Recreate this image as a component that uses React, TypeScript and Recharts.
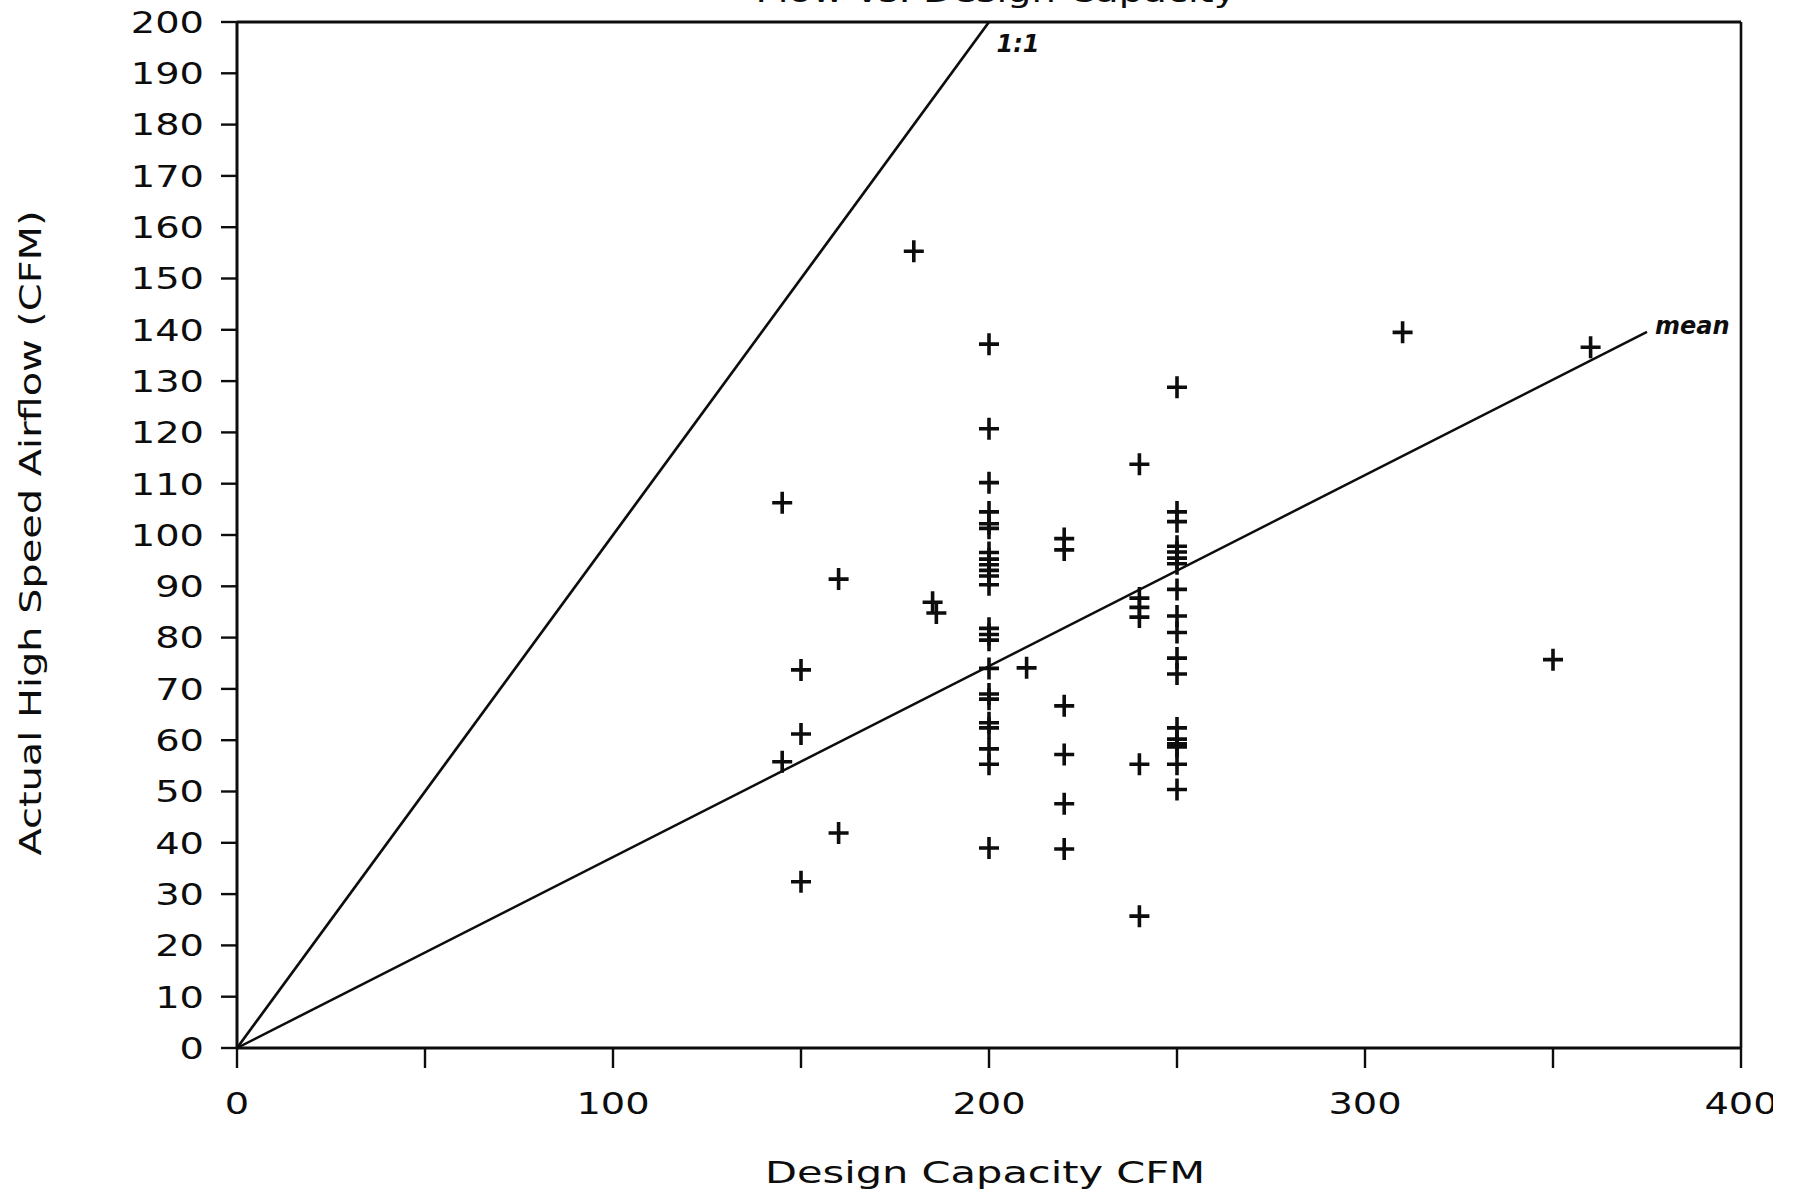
import React from 'react';
import { ScatterChart, Scatter, XAxis, YAxis, ReferenceLine, ReferenceDot } from 'recharts';

const designCapacity = [
  145, 145,
  150, 150, 150,
  160, 160,
  180,
  185, 186,
  200, 200, 200, 200, 200, 200, 200, 200, 200, 200, 200, 200, 200, 200, 200, 200, 200, 200, 200, 200, 200, 200, 200,
  210,
  220, 220, 220, 220, 220, 220,
  240, 240, 240, 240, 240, 240,
  250, 250, 250, 250, 250, 250, 250, 250, 250, 250, 250, 250, 250, 250, 250, 250, 250, 250,
  310, 350, 360,
];
const actualAirflow = [
  106.3, 55.8,
  73.7, 61.2, 32.4,
  91.4, 41.9,
  155.3,
  86.9, 84.8,
  137.2, 120.7, 110.2, 104.5, 102.2, 101.3, 96.6, 95.3, 94.2, 93.1, 92.0, 90.3, 81.8, 80.6, 79.5, 74.0, 69.0, 68.0, 63.4, 62.4, 58.3, 55.3, 39.0,
  74.1,
  99.3, 97.1, 66.7, 57.2, 47.6, 38.8,
  113.8, 87.7, 85.9, 84.0, 55.3, 25.7,
  128.8, 104.5, 102.6, 97.8, 96.7, 95.5, 94.4, 89.4, 84.2, 81.0, 76.0, 72.9, 62.4, 60.2, 59.3, 58.7, 55.3, 50.4,
  139.5, 75.7, 136.6,
];

const xTicks = [0, 50, 100, 150, 200, 250, 300, 350, 400];
const xTickLabels = ['0', '', '100', '', '200', '', '300', '', '400'];
const yTicks = [0, 10, 20, 30, 40, 50, 60, 70, 80, 90, 100, 110, 120, 130, 140, 150, 160, 170, 180, 190, 200];

const oneToOneLine = [{ x: 0, y: 0 }, { x: 200, y: 200 }];
const meanLine = [{ x: 0, y: 0 }, { x: 375, y: 139.6 }];
const oneToOneLabel = { x: 202, y: 196, text: '1:1' };
const meanLabel = { x: 375, y: 139.6, text: 'mean' };

const titleText = 'Flow vs. Design Capacity';
const xTitle = 'Design Capacity CFM';
const yTitle = 'Actual High Speed Airflow (CFM)';

const data = designCapacity.map((x, i) => ({ x, y: actualAirflow[i] }));

const FONT = '"DejaVu Sans", sans-serif';
const INK = '#0d0d0d';

const XTick = (props: any) => {
  const { x, y, payload } = props;
  const idx = xTicks.indexOf(payload.value);
  const label = idx >= 0 ? xTickLabels[idx] : '';
  if (!label) return <g />;
  return (
    <g transform={`translate(${x},${y})`}>
      <text transform="scale(1.28,1)" textAnchor="middle" dy="0.72em" fontSize={30} fontFamily={FONT} fill={INK}>
        {label}
      </text>
    </g>
  );
};

const YTick = (props: any) => {
  const { x, y, payload } = props;
  return (
    <g transform={`translate(${x},${y})`}>
      <text transform="scale(1.28,1)" textAnchor="end" dy="0.36em" fontSize={30} fontFamily={FONT} fill={INK}>
        {String(payload.value)}
      </text>
    </g>
  );
};

const Cross = (props: any) => {
  const { cx, cy } = props;
  if (cx == null || cy == null) return <g />;
  return (
    <path
      d={`M${cx - 10},${cy}h20M${cx},${cy - 11}v22`}
      stroke={INK}
      strokeWidth={3.6}
      fill="none"
    />
  );
};

const makeLabel = (text: string, dx: number, dy: number, size: number) => (p: any) => (
  <text
    x={p.cx + dx}
    y={p.cy + dy}
    fontSize={size}
    fontStyle="italic"
    fontWeight="bold"
    fontFamily={FONT}
    fill={INK}
  >
    {text}
  </text>
);

export default function App() {
  return (
    <div style={{ position: 'absolute', left: 0, top: 0, width: 1796, height: 1195, background: '#fff' }}>
      <div style={{ position: 'absolute', left: 0, top: 0, width: 1773, height: 1195, overflow: 'hidden' }}>
        <ScatterChart width={1773} height={1195} margin={{ top: 22, right: 32, bottom: 87, left: 137 }}>
          <XAxis
            type="number"
            dataKey="x"
            domain={[0, 400]}
            ticks={xTicks}
            interval={0}
            height={60}
            tickSize={20}
            tickMargin={24}
            tick={<XTick />}
            axisLine={{ stroke: INK, strokeWidth: 3 }}
            tickLine={{ stroke: INK, strokeWidth: 2.4 }}
            allowDataOverflow
          />
          <YAxis
            type="number"
            dataKey="y"
            domain={[0, 200]}
            ticks={yTicks}
            interval={0}
            width={100}
            tickSize={16}
            tickMargin={17}
            tick={<YTick />}
            axisLine={{ stroke: INK, strokeWidth: 3 }}
            tickLine={{ stroke: INK, strokeWidth: 2.4 }}
            allowDataOverflow
          />
          <ReferenceLine y={200} stroke={INK} strokeWidth={3} />
          <ReferenceLine x={400} stroke={INK} strokeWidth={2.6} />
          <ReferenceLine segment={oneToOneLine} stroke={INK} strokeWidth={2.7} />
          <ReferenceLine segment={meanLine} stroke={INK} strokeWidth={2.5} />
          <ReferenceDot
            x={oneToOneLabel.x}
            y={oneToOneLabel.y}
            r={0}
            shape={makeLabel(oneToOneLabel.text, 0, 9, 24)}
          />
          <ReferenceDot
            x={meanLabel.x}
            y={meanLabel.y}
            r={0}
            shape={makeLabel(meanLabel.text, 8, 2, 24)}
          />
          <Scatter data={data} shape={<Cross />} isAnimationActive={false} />
        </ScatterChart>
      </div>
      <svg width={1796} height={1195} style={{ position: 'absolute', left: 0, top: 0, pointerEvents: 'none' }}>
        <text x={996} y={2} textAnchor="middle" fontSize={31} fontFamily={FONT} fill={INK} textLength={481} lengthAdjust="spacingAndGlyphs">
          {titleText}
        </text>
        <text x={985} y={1183} textAnchor="middle" fontSize={31} fontFamily={FONT} fill={INK} textLength={440} lengthAdjust="spacingAndGlyphs">
          {xTitle}
        </text>
        <text
          x={0}
          y={0}
          transform="translate(41,533) rotate(-90)"
          textAnchor="middle"
          fontSize={31}
          fontFamily={FONT}
          fill={INK}
          textLength={645}
          lengthAdjust="spacingAndGlyphs"
        >
          {yTitle}
        </text>
      </svg>
    </div>
  );
}
